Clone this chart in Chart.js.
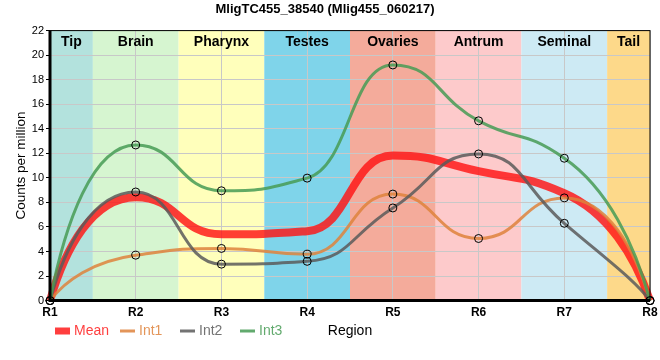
<!DOCTYPE html>
<html>
<head>
<meta charset="utf-8">
<script src="https://cdn.jsdelivr.net/npm/chart.js@4.4.1/dist/chart.umd.min.js"></script>
<style>
  html, body { margin: 0; padding: 0; background: #fff; }
  #wrap { width: 660px; height: 360px; }
</style>
</head>
<body>
<div id="wrap"><canvas id="chart"></canvas></div>
<script>
const regions = ['R1', 'R2', 'R3', 'R4', 'R5', 'R6', 'R7', 'R8'];
const meanVals = [0, 8.43, 5.4, 5.65, 11.82, 10.55, 8.75, 0];
const int1Vals = [0, 3.7, 4.25, 3.78, 8.68, 5.06, 8.37, 0];
const int2Vals = [0, 8.85, 2.97, 3.2, 7.55, 11.95, 6.3, 0];
const int3Vals = [0, 12.68, 8.95, 9.98, 19.2, 14.65, 11.6, 0];
const bandNames = ['Tip', 'Brain', 'Pharynx', 'Testes', 'Ovaries', 'Antrum', 'Seminal', 'Tail'];
const bandColors = ['#b3e2dd', '#d6f5d0', '#ffffbb', '#7fd4ea', '#f4ab9b', '#fdcacb', '#cdeaf4', '#fdd98a'];
const seriesNames = ['Mean', 'Int1', 'Int2', 'Int3'];
const seriesColors = ['rgba(255,20,20,0.82)', 'rgba(222,130,60,0.85)', 'rgba(90,90,90,0.85)', 'rgba(70,155,85,0.85)'];

const FONT = '"Liberation Sans", Arial, sans-serif';

// smoother spline: flat at local extremes, long handles, steep ends
const smoothPlugin = {
  id: 'smooth',
  beforeDatasetsDraw(chart) {
    chart.data.datasets.forEach((ds, di) => {
      const meta = chart.getDatasetMeta(di);
      const line = meta.dataset;
      line.updateControlPoints(chart.chartArea, 'x');
      const pts = meta.data;
      const n = pts.length;
      for (let i = 1; i < n - 1; i++) {
        const p = pts[i], a = pts[i - 1], b = pts[i + 1];
        const s0 = (p.y - a.y) / (p.x - a.x);
        const s1 = (b.y - p.y) / (b.x - p.x);
        const m = s0 * s1 <= 0 ? 0 : 2 * s0 * s1 / (s0 + s1);
        const h0 = (p.x - a.x) * 0.5, h1 = (b.x - p.x) * 0.5;
        p.cp1x = p.x - h0; p.cp1y = p.y - m * h0;
        p.cp2x = p.x + h1; p.cp2y = p.y + m * h1;
      }
      const f = pts[0], c1 = pts[1];
      f.cp2x = f.x + 0.35 * (c1.cp1x - f.x);
      f.cp2y = f.y + 0.5 * (c1.cp1y - f.y);
      const l = pts[n - 1], c2 = pts[n - 2];
      l.cp1x = l.x + 0.35 * (c2.cp2x - l.x);
      l.cp1y = l.y + 0.5 * (c2.cp2y - l.y);
      line._path = undefined;
    });
  }
};

// coloured region bands behind the plot
const bandsPlugin = {
  id: 'bands',
  beforeDraw(chart) {
    const { ctx, chartArea: a, scales: { x } } = chart;
    ctx.save();
    bandNames.forEach((name, i) => {
      const x0 = x.getPixelForValue(Math.max(0, i - 0.5));
      const x1 = x.getPixelForValue(Math.min(regions.length - 1, i + 0.5));
      ctx.fillStyle = bandColors[i];
      ctx.fillRect(x0, a.top, x1 - x0, a.bottom - a.top);
    });
    ctx.restore();
  },
  beforeDatasetsDraw(chart) {
    const { ctx, chartArea: a, scales: { x } } = chart;
    ctx.save();
    ctx.font = 'bold 14px ' + FONT;
    ctx.fillStyle = '#000';
    ctx.textAlign = 'center';
    ctx.textBaseline = 'middle';
    bandNames.forEach((name, i) => {
      const x0 = x.getPixelForValue(Math.max(0, i - 0.5));
      const x1 = x.getPixelForValue(Math.min(regions.length - 1, i + 0.5));
      ctx.fillText(name, (x0 + x1) / 2, a.top + 12);
    });
    ctx.restore();
  },
  afterDraw(chart) {
    const { ctx, chartArea: a } = chart;
    ctx.save();
    // frame
    ctx.strokeStyle = '#000';
    ctx.lineWidth = 1;
    ctx.strokeRect(a.left, a.top, a.right - a.left, a.bottom - a.top);
    ctx.lineWidth = 3;
    ctx.beginPath();
    ctx.moveTo(a.left, a.top);
    ctx.lineTo(a.left, a.bottom);
    ctx.lineTo(a.right, a.bottom);
    ctx.stroke();

    // legend + x title on one row
    const y = 331;
    const lxs = [55, 120, 180, 240];
    ctx.font = '14px ' + FONT;
    ctx.textBaseline = 'middle';
    ctx.textAlign = 'left';
    seriesNames.forEach((name, i) => {
      const lx = lxs[i];
      ctx.fillStyle = seriesColors[i];
      if (i === 0) ctx.fillRect(lx, y - 3.5, 15, 7);
      else ctx.fillRect(lx, y - 1.5, 15, 3);
      ctx.fillText(name, lx + 19, y);
    });
    ctx.fillStyle = '#000';
    ctx.textAlign = 'center';
    ctx.fillText('Region', (a.left + a.right) / 2, y);
    ctx.restore();
  }
};

const vals = [meanVals, int1Vals, int2Vals, int3Vals];
const datasets = seriesNames.map((name, i) => ({
  label: name,
  data: vals[i],
  borderColor: seriesColors[i],
  backgroundColor: seriesColors[i],
  borderWidth: i === 0 ? 8 : 3,
  pointRadius: i === 0 ? 0 : 4,
  pointBorderColor: '#000',
  pointBackgroundColor: 'rgba(0,0,0,0)',
  pointBorderWidth: 1,
  cubicInterpolationMode: 'monotone',
  order: i === 0 ? 10 : 4 - i,
  clip: false
}));

new Chart(document.getElementById('chart'), {
  type: 'line',
  data: { labels: regions, datasets },
  plugins: [bandsPlugin, smoothPlugin],
  options: {
    responsive: true,
    maintainAspectRatio: false,
    animation: false,
    events: [],
    layout: { padding: { left: 0, right: 10, top: 0, bottom: 35 } },
    plugins: {
      legend: { display: false },
      tooltip: { enabled: false },
      title: {
        display: true,
        text: 'MligTC455_38540 (Mlig455_060217)',
        color: '#000',
        font: { family: FONT, size: 13, weight: 'bold' },
        padding: { top: 2, bottom: 13 }
      }
    },
    scales: {
      x: {
        offset: false,
        grid: { color: '#c8c8c8', drawTicks: false },
        border: { display: false },
        ticks: { color: '#000', font: { family: FONT, size: 12, weight: 'bold' }, padding: 5, maxRotation: 0 },
        afterFit(s) { s.paddingRight = 0; s.paddingLeft = 0; }
      },
      y: {
        min: 0,
        max: 22,
        grid: { color: '#c8c8c8', tickLength: 4, tickColor: '#000' },
        border: { display: false },
        ticks: { stepSize: 2, color: '#000', font: { family: FONT, size: 11 }, padding: 2 },
        title: { display: true, text: 'Counts per million', color: '#000', font: { family: FONT, size: 13.5 }, padding: { top: 13, bottom: 0 } },
        afterFit(s) { s.width = 50; }
      }
    }
  }
});
</script>
</body>
</html>
